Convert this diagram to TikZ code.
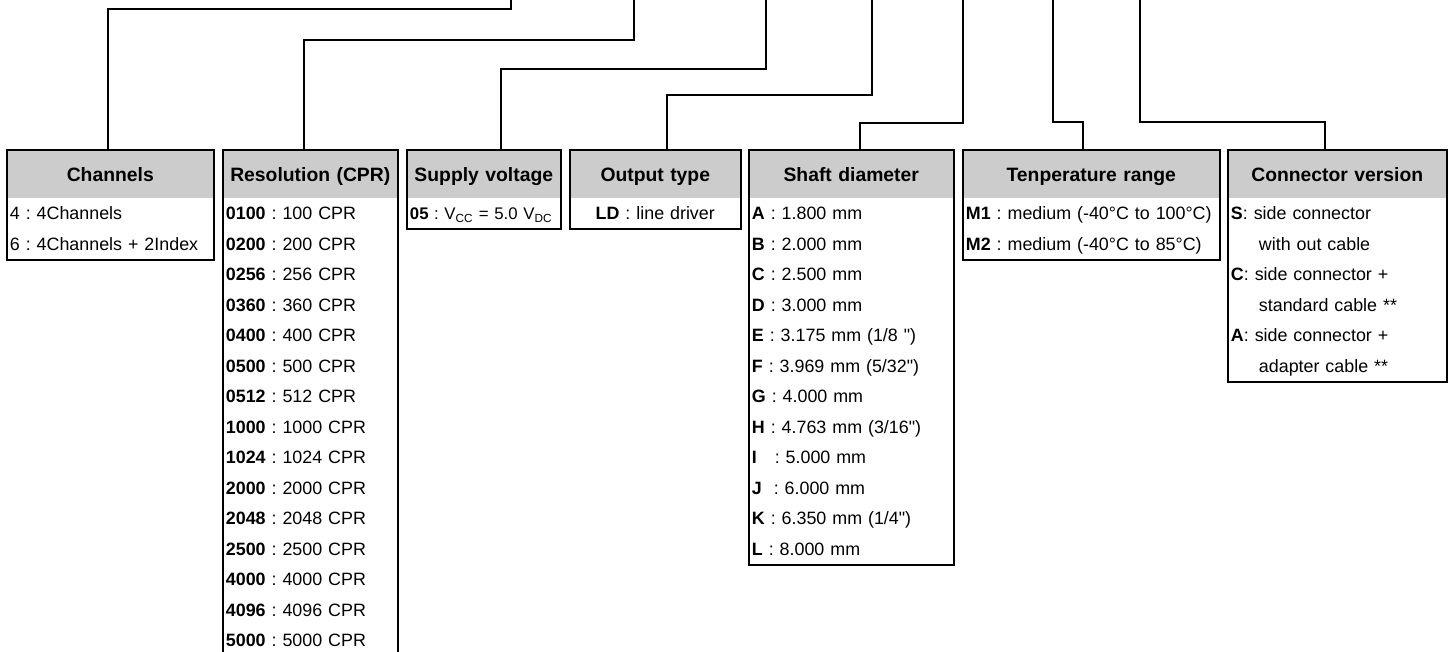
\documentclass[tikz,border=0pt]{standalone}
\usepackage{fontspec}
\setmainfont{Liberation Sans}
\usetikzlibrary{matrix,calc}

\definecolor{hdrgray}{RGB}{204,204,204}
\newcommand\hdrfont{\fontsize{14.5}{16}\selectfont\bfseries}
\newcommand\optfont{\fontsize{13.4}{15}\selectfont\frenchspacing}
\newcommand\inch{\textquotedbl}

\begin{document}
\begin{tikzpicture}[x=0.75pt,y=-0.75pt,
  optbox/.style={matrix of nodes, anchor=north west, inner sep=0pt, row sep=0pt, column sep=0pt,
    nodes={text width=#1, inner xsep=2pt, inner ysep=0pt, minimum height=22.875pt, text height=9.5pt, text depth=0pt, align=left, font=\optfont},
    row 1/.style={nodes={fill=hdrgray, minimum height=36pt, text height=10.4pt, align=center, font=\hdrfont}}},
  boxframe/.style={draw, line width=1.5pt},
  link/.style={draw, line width=0.9pt},
]
\clip (0,0) rectangle (1451,652);

\matrix[optbox=150.5pt] (chan) at (7,150) {
  Channels \\
  4 : 4Channels \\
  6 : 4Channels + 2Index \\ };

\matrix[optbox=126.5pt] (reso) at (223,150) {
  Resolution (CPR) \\
  \textbf{0100} : 100 CPR \\
  \textbf{0200} : 200 CPR \\
  \textbf{0256} : 256 CPR \\
  \textbf{0360} : 360 CPR \\
  \textbf{0400} : 400 CPR \\
  \textbf{0500} : 500 CPR \\
  \textbf{0512} : 512 CPR \\
  \textbf{1000} : 1000 CPR \\
  \textbf{1024} : 1024 CPR \\
  \textbf{2000} : 2000 CPR \\
  \textbf{2048} : 2048 CPR \\
  \textbf{2500} : 2500 CPR \\
  \textbf{4000} : 4000 CPR \\
  \textbf{4096} : 4096 CPR \\
  \textbf{5000} : 5000 CPR \\ };

\matrix[optbox=110.75pt] (supp) at (407,150) {
  Supply voltage \\
  |[font=\fontsize{12.6}{14}\selectfont\frenchspacing]| \textbf{05} : V\textsubscript{CC} = 5.0 V\textsubscript{DC} \\ };

\matrix[optbox=123.5pt] (outp) at (570,150) {
  Output type \\
  |[align=center]| \textbf{LD} : line driver \\ };

\matrix[optbox=149pt] (shaft) at (749,150) {
  Shaft diameter \\
  \textbf{A} : 1.800 mm \\
  \textbf{B} : 2.000 mm \\
  \textbf{C} : 2.500 mm \\
  \textbf{D} : 3.000 mm \\
  \textbf{E} : 3.175 mm (1/8 \inch) \\
  \textbf{F} : 3.969 mm (5/32\inch) \\
  \textbf{G} : 4.000 mm \\
  \textbf{H} : 4.763 mm (3/16\inch) \\
  \textbf{I} \ \ : 5.000 mm \\
  \textbf{J} \ : 6.000 mm \\
  \textbf{K} : 6.350 mm (1/4\inch) \\
  \textbf{L} : 8.000 mm \\ };

\matrix[optbox=188pt] (temp) at (963,150) {
  Tenperature range \\
  \textbf{M1} : medium (-40°C to 100°C) \\
  \textbf{M2} : medium (-40°C to 85°C) \\ };

\matrix[optbox=159.5pt] (conn) at (1228,150) {
  Connector version \\
  \textbf{S}: side connector \\
  \hspace*{21pt}with out cable \\
  \textbf{C}: side connector + \\
  \hspace*{21pt}standard cable ** \\
  \textbf{A}: side connector + \\
  \hspace*{21pt}adapter cable ** \\ };

% frames on top of the header fill
\foreach \m in {chan,reso,supp,outp,shaft,temp,conn}
  \draw[boxframe] (\m.north west) rectangle (\m.south east);

% code lines coming down from the part number
\coordinate (in-chan) at (511,0);
\coordinate (in-reso) at (634,0);
\coordinate (in-supp) at (766,0);
\coordinate (in-outp) at (872,0);
\coordinate (in-shaft) at (963,0);
\coordinate (in-temp) at (1053,0);
\coordinate (in-conn) at (1140,0);

\draw[link] (in-chan) -- ++(0,9) -| ($(chan.north west)+(101,0)$);
\draw[link] (in-reso) -- ++(0,40) -| ($(reso.north west)+(81,0)$);
\draw[link] (in-supp) -- ++(0,69) -| ($(supp.north west)+(94,0)$);
\draw[link] (in-outp) -- ++(0,95) -| ($(outp.north west)+(97,0)$);
\draw[link] (in-shaft) -- ++(0,123) -| ($(shaft.north west)+(111,0)$);
\draw[link] (in-temp) -- ++(0,122) -| ($(temp.north west)+(120,0)$);
\draw[link] (in-conn) -- ++(0,122) -| ($(conn.north west)+(97,0)$);

\end{tikzpicture}
\end{document}
